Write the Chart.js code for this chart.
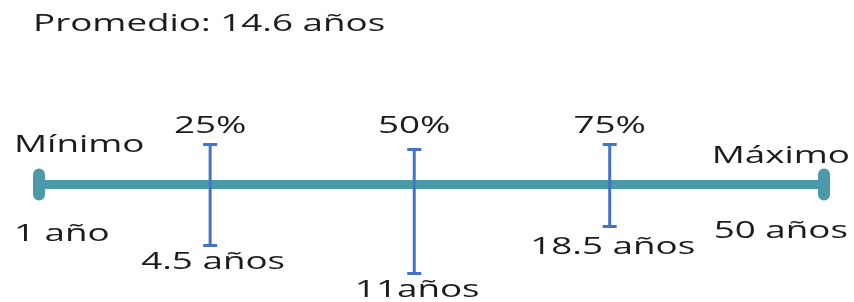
<!DOCTYPE html>
<html>
<head>
<meta charset="utf-8">
<script src="https://cdn.jsdelivr.net/npm/chart.js@4"></script>
<style>
  body { margin: 0; background: #fff; }
  #wrap { width: 854px; height: 302px; }
</style>
</head>
<body>
<div id="wrap"><canvas id="boxchart" width="854" height="302"></canvas></div>
<script>
// data
const categories = ['Mínimo', '25%', '50%', '75%', 'Máximo'];
const ages = [1, 4.5, 11, 18.5, 50];
const valueLabels = ['1 año', '4.5 años', '11años', '18.5 años', '50 años'];
const average = 14.6;
// schematic spots along the line (not to scale in the original)
const spots = [0, 21.8, 47.8, 72.7, 100];
// whisker reach above / below the line for the three quartiles
const whiskerUp = [40, 35, 40];
const whiskerDown = [-61, -89, -42];

const teal = '#4b99a9';
const blue = '#4472c4';
const ink = '#1c1c1c';
const SX = 1.6; // the picture is stretched sideways

const ctx = document.getElementById('boxchart').getContext('2d');

function stretchedText(c, str, x, y, align) {
  c.save();
  c.translate(x, y);
  c.scale(SX, 1);
  c.textAlign = align;
  c.fillText(str, 0, 0);
  c.restore();
}

const labelsPlugin = {
  id: 'labels',
  afterDatasetsDraw(chart) {
    const c = chart.ctx;
    const xs = chart.scales.x, ys = chart.scales.y;
    c.save();
    c.fillStyle = ink;
    c.font = '23px "Open Sans"';
    c.textBaseline = 'alphabetic';

    stretchedText(c, 'Promedio: ' + average + ' años', 33, 31, 'left');

    // ends
    stretchedText(c, categories[0], 14, 152, 'left');
    stretchedText(c, valueLabels[0], 14, 241, 'left');
    stretchedText(c, categories[4], 850, 163, 'right');
    stretchedText(c, valueLabels[4], 848, 238, 'right');

    // quartiles
    for (let i = 1; i <= 3; i++) {
      const x = xs.getPixelForValue(spots[i]);
      stretchedText(c, categories[i], x, 133, 'center');
      const yb = ys.getPixelForValue(whiskerDown[i - 1]);
      stretchedText(c, valueLabels[i], x + 3, yb + (i === 3 ? 27 : 23), 'center');
    }
    c.restore();
  }
};

const datasets = [];
for (let i = 1; i <= 3; i++) {
  datasets.push({
    label: categories[i],
    data: [{ x: spots[i], y: whiskerUp[i - 1] }, { x: spots[i], y: whiskerDown[i - 1] }],
    borderColor: blue,
    borderWidth: 3,
    pointStyle: 'line',
    pointRadius: 7,
    pointBorderWidth: 3,
    pointBorderColor: blue,
    order: 0
  });
}
// end caps
[0, 4].forEach(i => {
  datasets.push({
    label: categories[i],
    data: [{ x: spots[i], y: 10 }, { x: spots[i], y: -10 }],
    borderColor: teal,
    borderWidth: 12,
    borderCapStyle: 'round',
    pointRadius: 0,
    order: 1
  });
});
// main line
datasets.push({
  label: 'rango',
  data: [{ x: spots[0], y: 0 }, { x: spots[4], y: 0 }],
  borderColor: teal,
  borderWidth: 9,
  pointRadius: 0,
  order: 2
});

new Chart(ctx, {
  type: 'line',
  data: { datasets: datasets },
  options: {
    responsive: false,
    animation: false,
    layout: { padding: 0, autoPadding: false },
    plugins: { legend: { display: false }, tooltip: { enabled: false } },
    scales: {
      x: { type: 'linear', display: false, min: -4.97, max: 103.82 },
      y: { type: 'linear', display: false, min: -117.5, max: 184.5 }
    }
  },
  plugins: [labelsPlugin]
});
</script>
</body>
</html>
